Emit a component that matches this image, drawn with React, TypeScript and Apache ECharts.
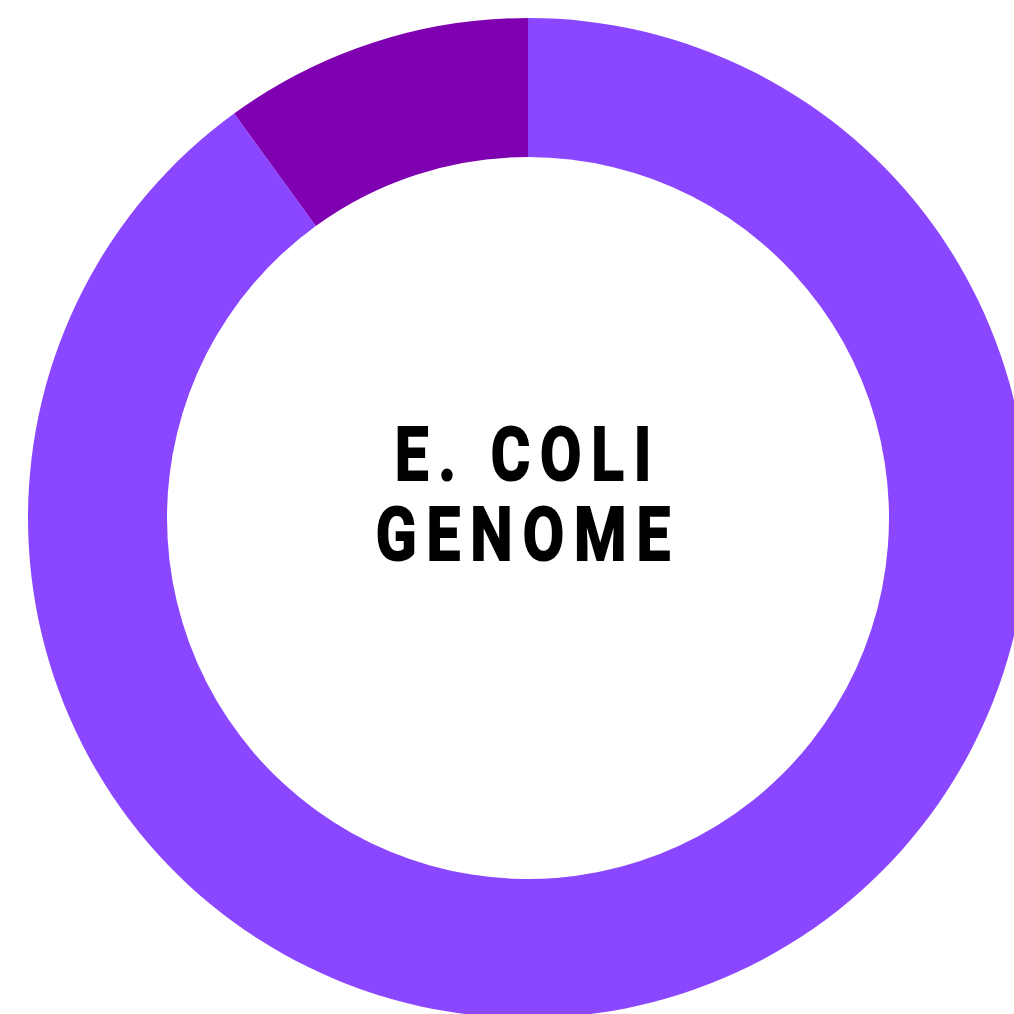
import React, { useEffect, useRef } from "react";
import * as echarts from "echarts";

const categories = ["Rest of genome", "Highlighted region"];
const values = [90, 10];
const colors = ["#8a47ff", "#7e00b0"];
const titleLines = ["E. COLI", "GENOME"];

export default function App() {
  const ref = useRef<HTMLDivElement>(null);
  useEffect(() => {
    if (!ref.current) return;
    const chart = echarts.init(ref.current, null, { renderer: "svg" });
    const textStyle = (t: string) => ({
      text: t,
      x: 0,
      y: 0,
      fill: "#000",
      stroke: "#000",
      lineWidth: 2.2,
      font: "bold 75px Roboto",
      align: "center",
      verticalAlign: "middle",
    });
    chart.setOption({
      animation: false,
      backgroundColor: "#ffffff",
      series: [
        {
          type: "pie",
          center: [528, 518],
          radius: [361, 500],
          startAngle: 90,
          clockwise: true,
          silent: true,
          label: { show: false },
          labelLine: { show: false },
          itemStyle: { borderWidth: 0 },
          data: categories.map((c, i) => ({
            name: c,
            value: values[i],
            itemStyle: { color: colors[i] },
          })),
        },
      ],
      graphic: [
        {
          type: "text",
          x: 528,
          y: 455,
          scaleX: 0.8,
          silent: true,
          style: textStyle(titleLines[0]),
        },
        {
          type: "text",
          x: 528,
          y: 535,
          scaleX: 0.8,
          silent: true,
          style: textStyle(titleLines[1]),
        },
      ],
    });
    ref.current.querySelectorAll("text").forEach((el) => {
      (el as SVGTextElement).style.letterSpacing = "12.5px";
    });
    return () => chart.dispose();
  }, []);
  return (
    <div
      ref={ref}
      style={{ position: "fixed", left: 0, top: 0, width: 1014, height: 1014 }}
    />
  );
}
